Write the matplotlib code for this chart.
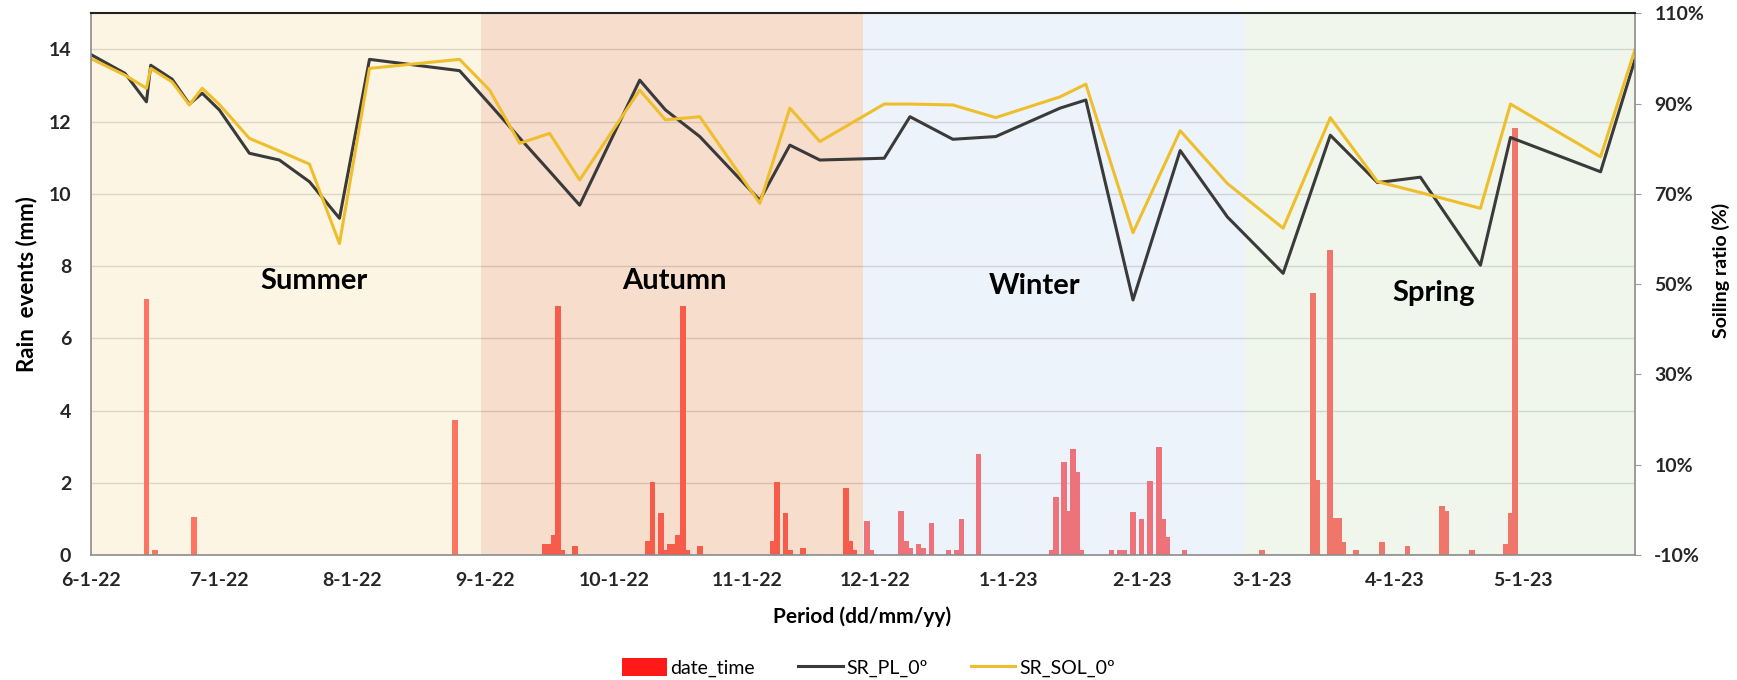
import pandas as pd
import numpy as np
import matplotlib.pyplot as plt
import matplotlib.dates as mdates
from matplotlib.ticker import FuncFormatter

plt.rcParams['font.family'] = ['Lato', 'DejaVu Sans']

# --- soiling ratio measurements (%) ---
sr_dates = ["2022-06-01", "2022-06-09", "2022-06-14", "2022-06-15", "2022-06-20", "2022-06-24",
            "2022-06-27", "2022-07-01", "2022-07-08", "2022-07-15", "2022-07-22", "2022-07-29",
            "2022-08-05", "2022-08-26", "2022-09-02", "2022-09-09", "2022-09-16", "2022-09-23",
            "2022-10-07", "2022-10-13", "2022-10-21", "2022-11-04", "2022-11-11", "2022-11-18",
            "2022-12-03", "2022-12-09", "2022-12-19", "2022-12-29", "2023-01-13", "2023-01-19",
            "2023-01-30", "2023-02-10", "2023-02-21", "2023-03-06", "2023-03-17", "2023-03-28",
            "2023-04-07", "2023-04-21", "2023-04-28", "2023-05-19", "2023-05-27"]
sr_pl = [100.9, 96.7, 90.4, 98.5, 95.4, 89.9, 92.3, 88.6, 79.0, 77.5, 72.7, 64.6,
         99.8, 97.3, 89.9, 82.4, 75.0, 67.5, 95.2, 88.6, 82.7, 68.6, 80.8, 77.5,
         77.9, 87.1, 82.1, 82.7, 89.0, 90.8, 46.5, 79.6, 64.9, 52.4, 83.0, 72.5,
         73.7, 54.2, 82.5, 74.9, 99.7]
sr_sol = [100.0, 96.3, 93.4, 97.8, 94.8, 89.7, 93.4, 89.8, 82.3, 79.5, 76.6, 59.0,
          97.8, 99.8, 93.0, 81.2, 83.4, 73.1, 93.0, 86.4, 87.1, 67.9, 89.0, 81.6,
          89.9, 89.9, 89.7, 86.9, 91.5, 94.3, 61.4, 84.0, 72.3, 62.4, 86.9, 72.7,
          70.3, 66.8, 89.9, 78.2, 101.9]

# --- rain events (mm) ---
rain_dates = ["2022-06-14", "2022-06-16", "2022-06-25", "2022-08-25", "2022-09-15", "2022-09-16",
              "2022-09-17", "2022-09-18", "2022-09-19", "2022-09-22", "2022-10-09", "2022-10-10",
              "2022-10-12", "2022-10-13", "2022-10-14", "2022-10-15", "2022-10-16", "2022-10-17",
              "2022-10-18", "2022-10-21", "2022-11-07", "2022-11-08", "2022-11-10", "2022-11-11",
              "2022-11-14", "2022-11-24", "2022-11-25", "2022-11-26", "2022-11-29", "2022-11-30",
              "2022-12-07", "2022-12-08", "2022-12-09", "2022-12-11", "2022-12-12", "2022-12-14",
              "2022-12-18", "2022-12-20", "2022-12-21", "2022-12-25", "2023-01-11", "2023-01-12",
              "2023-01-14", "2023-01-15", "2023-01-16", "2023-01-17", "2023-01-18", "2023-01-25",
              "2023-01-27", "2023-01-28", "2023-01-30", "2023-02-01", "2023-02-03", "2023-02-05",
              "2023-02-06", "2023-02-07", "2023-02-11", "2023-03-01", "2023-03-13", "2023-03-14",
              "2023-03-17", "2023-03-18", "2023-03-19", "2023-03-20", "2023-03-23", "2023-03-29",
              "2023-04-04", "2023-04-12", "2023-04-13", "2023-04-19", "2023-04-27", "2023-04-28",
              "2023-04-29"]
rain_mm = [7.1, 0.15, 1.05, 3.75, 0.3, 0.3,
           0.55, 6.9, 0.15, 0.25, 0.4, 2.03,
           1.15, 0.15, 0.3, 0.3, 0.55, 6.9,
           0.15, 0.25, 0.4, 2.03, 1.15, 0.15,
           0.2, 1.85, 0.4, 0.15, 0.95, 0.15,
           1.23, 0.4, 0.2, 0.3, 0.2, 0.88,
           0.15, 0.15, 1.0, 2.8, 0.15, 1.6,
           2.58, 1.23, 2.93, 2.31, 0.15, 0.15,
           0.15, 0.15, 1.2, 1.0, 2.05, 3.0,
           1.0, 0.5, 0.15, 0.15, 7.25, 2.08,
           8.45, 1.02, 1.02, 0.37, 0.15, 0.35,
           0.25, 1.37, 1.23, 0.15, 0.3, 1.15,
           11.82]

# --- seasons ---
season_names = ["Summer", "Autumn", "Winter", "Spring"]
season_start = ["2022-06-01", "2022-08-31", "2022-11-28", "2023-02-25"]
season_end = ["2022-08-31", "2022-11-28", "2023-02-25", "2023-05-27"]
season_colors = ["#FAEAC1", "#EFB28B", "#D8E4F5", "#DDEBD2"]
season_text_x = ["2022-07-23", "2022-10-15", "2023-01-07", "2023-04-10"]
season_text_y = [7.6, 7.6, 7.45, 7.25]

tick_dates = ["2022-06-01", "2022-07-01", "2022-08-01", "2022-09-01", "2022-10-01", "2022-11-01",
              "2022-12-01", "2023-01-01", "2023-02-01", "2023-03-01", "2023-04-01", "2023-05-01"]
tick_labels = ["6-1-22", "7-1-22", "8-1-22", "9-1-22", "10-1-22", "11-1-22",
               "12-1-22", "1-1-23", "2-1-23", "3-1-23", "4-1-23", "5-1-23"]


def dnum(d):
    return mdates.date2num(pd.to_datetime(d))


fig = plt.figure(figsize=(17.37, 6.80), dpi=100)
ax = fig.add_axes([0.0522, 0.1838, 0.8890, 0.7966])
ax2 = ax.twinx()

# bars + grid on the left axis
ax.bar(dnum(rain_dates), rain_mm, width=1.35, color="#FF1A1A", label="date_time", zorder=2)
ax.set_ylim(0, 15)
ax.set_yticks(range(0, 15, 2))
ax.yaxis.grid(True, color="#C8C8C8", lw=1)
ax.set_axisbelow(True)

# season bands laid over the bars (tints them like the original)
for s, e, c in zip(season_start, season_end, season_colors):
    ax.axvspan(dnum(s), dnum(e), color=c, alpha=0.44, lw=0, zorder=3)

# soiling ratio lines on the right axis
x_sr = dnum(sr_dates)
ax2.plot(x_sr, sr_pl, color="#3A3A3A", lw=2.2, label="SR_PL_0º")
ax2.plot(x_sr, sr_sol, color="#EFBE2C", lw=2.2, label="SR_SOL_0º")
ax2.set_ylim(-10, 110)
ax2.set_yticks(range(-10, 111, 20))
ax2.yaxis.set_major_formatter(FuncFormatter(lambda v, p: f"{v:.0f}%"))

for name, tx, ty in zip(season_names, season_text_x, season_text_y):
    ax2.text(dnum(tx), ty, name, transform=ax.transData, ha="center", va="center",
             fontsize=21, fontweight="bold", color="black")

ax.set_xlim(dnum("2022-06-01"), dnum("2023-05-27"))
ax.set_xticks(dnum(tick_dates))
ax.set_xticklabels(tick_labels, fontsize=14, fontweight="bold", color="#262626")
for lab in ax.get_yticklabels():
    lab.set_fontweight("bold")
for lab in ax2.get_yticklabels():
    lab.set_fontweight("bold")
ax.tick_params(axis="x", length=0, pad=12)
ax.tick_params(axis="y", length=0, pad=14, labelsize=14, labelcolor="#262626")
ax2.tick_params(axis="y", length=4, pad=10, labelsize=14, labelcolor="#262626", color="#9A9A9A")

for sp in ax.spines.values():
    sp.set_visible(False)
for k in ["left", "bottom", "right"]:
    ax2.spines[k].set_color("#8C8C8C")
    ax2.spines[k].set_linewidth(1.2)
ax2.spines["top"].set_color("#222222")
ax2.spines["top"].set_linewidth(1.5)

ax.set_ylabel("Rain  events (mm)", fontsize=16, fontweight="bold")
ax.yaxis.set_label_coords(-0.0346, 0.5)
ax2.set_ylabel("Soiling ratio (%)", fontsize=14, fontweight="bold", rotation=90)
ax2.yaxis.set_label_coords(1.0497, 0.526)
ax.set_xlabel("Period (dd/mm/yy)", fontsize=15, fontweight="bold")
ax.xaxis.set_label_coords(0.4995, -0.094)

h1, l1 = ax.get_legend_handles_labels()
h2, l2 = ax2.get_legend_handles_labels()
fig.legend(h1 + h2, l1 + l2, loc="center", bbox_to_anchor=(0.5, 1 - 667.5 / 680), ncol=3,
           frameon=False, fontsize=14, handlelength=2.3, handleheight=1.0,
           handletextpad=0.2, columnspacing=2.2)

fig.savefig("out.png", dpi=100)
